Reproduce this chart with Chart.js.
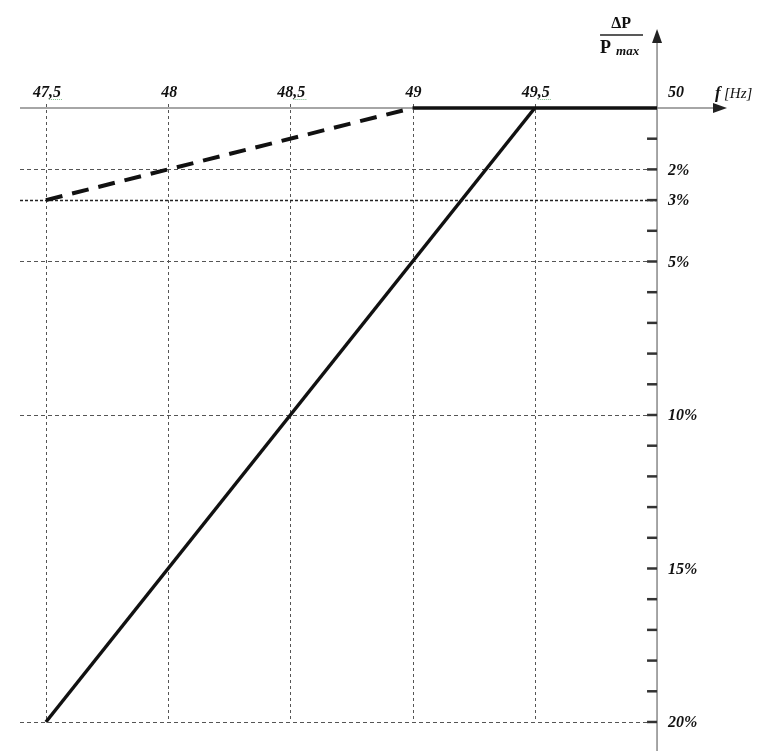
<!DOCTYPE html>
<html>
<head>
<meta charset="utf-8">
<script src="https://cdn.jsdelivr.net/npm/chart.js@4"></script>
<style>
  html, body { margin: 0; padding: 0; background: #fff; }
  #wrap { width: 768px; height: 751px; }
</style>
</head>
<body>
<div id="wrap"><canvas id="c" width="768" height="751"></canvas></div>
<script>
// Frequency (Hz) and power reduction ΔP/Pmax (%)
const freqTicks = [47.5, 48, 48.5, 49, 49.5, 50];
const freqTickLabels = ['47,5', '48', '48,5', '49', '49,5', '50'];
const freqGrid = [47.5, 48, 48.5, 49, 49.5];
const powerLabelled = [2, 3, 5, 10, 15, 20];
const powerLabels = ['2%', '3%', '5%', '10%', '15%', '20%'];
const powerGrid = [2, 3, 5, 10, 20];
const powerMinor = [1, 2, 3, 4, 5, 6, 7, 8, 9, 10, 11, 12, 13, 14, 15, 16, 17, 18, 19, 20];

// Limited characteristic: 3 % at 47.5 Hz rising to 0 % at 49 Hz, then flat to 50 Hz
const limitFreq = [47.5, 49, 50];
const limitPower = [3, 0, 0];
// Droop characteristic: 20 % at 47.5 Hz to 0 % at 49.5 Hz
const droopFreq = [47.5, 49.5];
const droopPower = [20, 0];

const toPoints = (xs, ys) => xs.map((x, i) => ({ x: x, y: ys[i] }));

const SERIF = '"Liberation Serif", "DejaVu Serif", serif';
const SERIF_BI = 'bold italic 16px ' + SERIF;

const axesPlugin = {
  id: 'freqAxes',
  beforeDatasetsDraw(chart) {
    const { ctx, chartArea, scales: { x, y } } = chart;
    const x0 = x.getPixelForValue(50);
    const y0 = y.getPixelForValue(0);
    const y20 = y.getPixelForValue(20);
    ctx.save();

    // dotted vertical guides
    ctx.strokeStyle = '#555';
    ctx.lineWidth = 1;
    ctx.setLineDash([3, 3]);
    freqGrid.forEach(f => {
      const px = Math.round(x.getPixelForValue(f)) + 0.5;
      ctx.beginPath();
      ctx.moveTo(px, y0 - 4);
      ctx.lineTo(px, y20);
      ctx.stroke();
    });

    // dotted horizontal guides
    powerGrid.forEach(p => {
      const py = Math.round(y.getPixelForValue(p)) + 0.5;
      ctx.strokeStyle = p === 3 ? '#222' : '#555';
      ctx.lineWidth = p === 3 ? 1.6 : 1;
      ctx.setLineDash(p === 3 ? [3, 2] : [4, 3]);
      ctx.beginPath();
      ctx.moveTo(chartArea.left, py);
      ctx.lineTo(x0, py);
      ctx.stroke();
    });
    ctx.setLineDash([]);

    // axes with arrowheads
    ctx.strokeStyle = '#888';
    ctx.fillStyle = '#222';
    ctx.lineWidth = 1.5;
    ctx.beginPath();
    ctx.moveTo(chartArea.left, y0);
    ctx.lineTo(chartArea.right - 6, y0);
    ctx.stroke();
    ctx.beginPath();
    ctx.moveTo(chartArea.right + 2, y0);
    ctx.lineTo(chartArea.right - 12, y0 - 5);
    ctx.lineTo(chartArea.right - 12, y0 + 5);
    ctx.closePath();
    ctx.fill();

    ctx.beginPath();
    ctx.moveTo(x0, chartArea.bottom);
    ctx.lineTo(x0, chartArea.top + 6);
    ctx.stroke();
    ctx.beginPath();
    ctx.moveTo(x0, chartArea.top - 4);
    ctx.lineTo(x0 - 5, chartArea.top + 10);
    ctx.lineTo(x0 + 5, chartArea.top + 10);
    ctx.closePath();
    ctx.fill();

    // minor ticks on the power axis
    ctx.strokeStyle = '#333';
    ctx.lineWidth = 2.5;
    powerMinor.forEach(p => {
      const py = y.getPixelForValue(p);
      ctx.beginPath();
      ctx.moveTo(x0 - 10, py);
      ctx.lineTo(x0, py);
      ctx.stroke();
    });
    ctx.restore();
  },
  afterDatasetsDraw(chart) {
    const { ctx, chartArea, scales: { x, y } } = chart;
    const x0 = x.getPixelForValue(50);
    const y0 = y.getPixelForValue(0);
    ctx.save();
    ctx.fillStyle = '#111';
    ctx.font = SERIF_BI;
    ctx.textBaseline = 'alphabetic';

    // frequency labels above the axis
    freqTicks.forEach((f, i) => {
      const label = freqTickLabels[i];
      const px = x.getPixelForValue(f);
      if (f === 50) {
        ctx.textAlign = 'left';
        ctx.fillText(label, px + 11, y0 - 11);
        return;
      }
      ctx.textAlign = 'center';
      ctx.fillText(label, px + 1, y0 - 11);
      const comma = label.indexOf(',');
      if (comma >= 0) {
        const w = ctx.measureText(label).width;
        const start = px + 1 - w / 2 + ctx.measureText(label.slice(0, comma)).width;
        ctx.save();
        ctx.strokeStyle = '#7dbb8a';
        ctx.lineWidth = 1;
        ctx.setLineDash([1, 1]);
        ctx.beginPath();
        ctx.moveTo(start, y0 - 8.5);
        ctx.lineTo(px + 1 + w / 2 + 2, y0 - 8.5);
        ctx.stroke();
        ctx.restore();
      }
    });

    // percentage labels right of the axis
    ctx.textAlign = 'left';
    ctx.textBaseline = 'middle';
    powerLabelled.forEach((p, i) => {
      ctx.fillText(powerLabels[i], x0 + 11, y.getPixelForValue(p) + 1);
    });

    // axis titles
    ctx.textBaseline = 'alphabetic';
    ctx.font = 'bold italic 17px ' + SERIF;
    ctx.fillText('f', chartArea.right - 10, y0 - 10);
    ctx.font = 'italic 15px ' + SERIF;
    ctx.fillText('[Hz]', chartArea.right - 1, y0 - 10);

    ctx.font = 'bold 16px ' + SERIF;
    ctx.textAlign = 'center';
    ctx.fillText('\u0394P', x0 - 36, 28);
    ctx.strokeStyle = '#222';
    ctx.lineWidth = 1.5;
    ctx.beginPath();
    ctx.moveTo(x0 - 57, 35);
    ctx.lineTo(x0 - 14, 35);
    ctx.stroke();
    ctx.textAlign = 'left';
    ctx.font = 'bold 18px ' + SERIF;
    ctx.fillText('P', x0 - 57, 53);
    ctx.font = 'bold italic 13px ' + SERIF;
    ctx.fillText('max', x0 - 41, 55);
    ctx.restore();
  }
};

new Chart(document.getElementById('c'), {
  type: 'line',
  data: {
    datasets: [
      {
        label: 'limit',
        data: toPoints(limitFreq, limitPower),
        borderColor: '#111',
        borderWidth: 3.5,
        pointRadius: 0,
        tension: 0,
        segment: {
          borderDash: ctx => ctx.p0DataIndex === 0 ? [17, 10] : undefined,
          borderWidth: ctx => ctx.p0DataIndex === 0 ? 4 : 3.5
        }
      },
      {
        label: 'droop',
        data: toPoints(droopFreq, droopPower),
        borderColor: '#111',
        borderWidth: 3.5,
        pointRadius: 0,
        tension: 0
      }
    ]
  },
  options: {
    responsive: false,
    animation: false,
    events: [],
    layout: { padding: { left: 20, right: 43, top: 33, bottom: 0 } },
    plugins: { legend: { display: false }, tooltip: { enabled: false } },
    scales: {
      x: { type: 'linear', min: 47.394, max: 50.278, display: false },
      y: { type: 'linear', reverse: true, min: -2.443, max: 20.945, display: false }
    }
  },
  plugins: [axesPlugin]
});
</script>
</body>
</html>
